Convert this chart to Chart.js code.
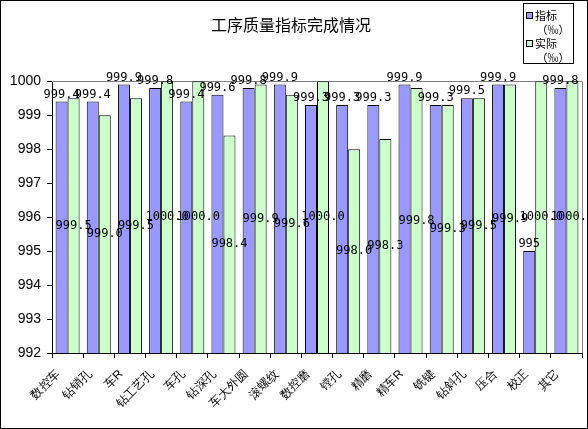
<!DOCTYPE html>
<html>
<head>
<meta charset="utf-8">
<script src="https://cdn.jsdelivr.net/npm/chart.js@4"></script>
<style>
    body { margin: 0; background: #fff; }
    canvas { display: block; }
</style>
</head>
<body>
<canvas id="qualityChart" width="588" height="429"></canvas>
<script>
// 工序质量指标完成情况 (‰)

const processes = ['数控车', '钻销孔', '车R', '钻工艺孔', '车孔', '钻深孔', '车大外圆', '滚螺纹', '数控磨',
    '镗孔', '精磨', '精车R', '铣键', '钻斜孔', '压合', '校正', '其它'];
const targetValues = [999.4, 999.4, 999.9, 999.8, 999.4, 999.6, 999.8, 999.9, 999.3,
    999.3, 999.3, 999.9, 999.3, 999.5, 999.9, 995, 999.8];
const actualValues = [999.5, 999.0, 999.5, 1000.0, 1000.0, 998.4, 999.9, 999.6, 1000.0,
    998.0, 998.3, 999.8, 999.3, 999.5, 999.9, 1000.0, 1000.0];
const yTicks = [992, 993, 994, 995, 996, 997, 998, 999, 1000];

const BLUE = '#9999ff';
const GREEN = '#ccffcc';
const CJK = '"Noto Sans CJK SC", sans-serif';

// gray frame on top and right of the plot area
const plotFrame = {
    id: 'plotFrame',
    beforeDatasetsDraw(chart) {
        const { ctx, chartArea: a } = chart;
        ctx.save();
        ctx.strokeStyle = '#808080';
        ctx.lineWidth = 1;
        ctx.beginPath();
        ctx.moveTo(a.left, Math.round(a.top) + 0.5);
        ctx.lineTo(Math.round(a.right) + 0.5, Math.round(a.top) + 0.5);
        ctx.lineTo(Math.round(a.right) + 0.5, a.bottom);
        ctx.stroke();
        ctx.restore();
    }
};

// slanted category names under the x axis, placed from the scale's tick positions
const slantedLabels = {
    id: 'slantedLabels',
    afterDraw(chart) {
        const ctx = chart.ctx;
        const xs = chart.scales.x;
        const bottom = chart.chartArea.bottom;
        ctx.save();
        // named CJK family did not rotate in the renderer, the generic fallback does
        ctx.font = '12px Helvetica, Arial, sans-serif';
        ctx.fillStyle = '#000';
        ctx.textAlign = 'right';
        ctx.textBaseline = 'middle';
        processes.forEach((name, i) => {
            ctx.save();
            ctx.translate(xs.getPixelForTick(i) - 9, bottom + 19);
            ctx.rotate(-Math.PI / 4);
            ctx.fillText(name, 0, 0);
            ctx.restore();
        });
        ctx.restore();
    }
};

// value labels: target above its bar, actual in the middle of its bar
const valueLabels = {
    id: 'valueLabels',
    afterDatasetsDraw(chart) {
        const ctx = chart.ctx;
        const bottom = chart.scales.y.getPixelForValue(yTicks[0]);
        ctx.save();
        ctx.font = '12px "DejaVu Sans Mono", monospace';
        ctx.fillStyle = '#000';
        ctx.textAlign = 'center';
        chart.data.datasets.forEach((ds, di) => {
            chart.getDatasetMeta(di).data.forEach((bar, i) => {
                const v = ds.data[i];
                if (di === 0) {
                    ctx.textBaseline = 'bottom';
                    ctx.fillText(String(v), bar.x, bar.y - 1);
                } else {
                    ctx.textBaseline = 'middle';
                    ctx.fillText(v.toFixed(1), bar.x, (bar.y + bottom) / 2);
                }
            });
        });
        ctx.restore();
    }
};

// legend box at top right and the outer border
const boxLegend = {
    id: 'boxLegend',
    afterDraw(chart) {
        const ctx = chart.ctx;
        ctx.save();
        ctx.strokeStyle = '#000';
        ctx.lineWidth = 1;
        ctx.strokeRect(523.5, 3.5, 50, 60);
        ctx.font = '11px ' + CJK;
        ctx.fillStyle = '#000';
        ctx.textBaseline = 'middle';
        const items = [
            { color: BLUE, name: '指标', y: 16 },
            { color: GREEN, name: '实际', y: 44 }
        ];
        items.forEach(it => {
            ctx.fillStyle = it.color;
            ctx.fillRect(526.5, it.y - 3.5, 6, 6);
            ctx.strokeRect(526.5, it.y - 3.5, 6, 6);
            ctx.fillStyle = '#000';
            ctx.textAlign = 'left';
            ctx.fillText(it.name, 535, it.y);
            ctx.textAlign = 'center';
            ctx.fillText('（‰）', 553, it.y + 14);
        });
        ctx.lineWidth = 1;
        ctx.strokeRect(0.5, 0.5, 587, 428);
        ctx.restore();
    }
};

new Chart(document.getElementById('qualityChart'), {
    type: 'bar',
    data: {
        labels: processes,
        datasets: [{
            label: '指标（‰）',
            data: targetValues,
            backgroundColor: BLUE,
            borderColor: '#000',
            borderWidth: 1,
            borderSkipped: false
        }, {
            label: '实际（‰）',
            data: actualValues,
            backgroundColor: GREEN,
            borderColor: '#000',
            borderWidth: 1,
            borderSkipped: false
        }]
    },
    options: {
        responsive: false,
        animation: false,
        layout: {
            padding: { left: 0, right: 6, bottom: 71, top: 0 }
        },
        datasets: {
            bar: { barPercentage: 1, categoryPercentage: 0.77 }
        },
        plugins: {
            legend: { display: false },
            tooltip: { enabled: false },
            title: {
                display: true,
                text: '工序质量指标完成情况',
                color: '#000',
                font: { family: CJK, size: 16, weight: 'normal' },
                padding: { top: 15, bottom: 47 }
            }
        },
        scales: {
            x: {
                grid: {
                    offset: true,
                    drawOnChartArea: false,
                    tickLength: 5,
                    color: '#000'
                },
                border: { color: '#000', width: 1 },
                ticks: { display: false, autoSkip: false }
            },
            y: {
                min: 992,
                max: 1000,
                afterBuildTicks(scale) {
                    scale.ticks = yTicks.map(v => ({ value: v }));
                },
                grid: {
                    drawOnChartArea: false,
                    tickLength: 5,
                    color: '#000'
                },
                border: { color: '#000', width: 1 },
                ticks: {
                    color: '#000',
                    font: { family: '"Liberation Sans", Arial, sans-serif', size: 14 },
                    padding: 6,
                    callback: v => String(v)
                },
                afterFit(scale) { scale.width = 52; }
            }
        }
    },
    plugins: [plotFrame, valueLabels, slantedLabels, boxLegend]
});
</script>
</body>
</html>
